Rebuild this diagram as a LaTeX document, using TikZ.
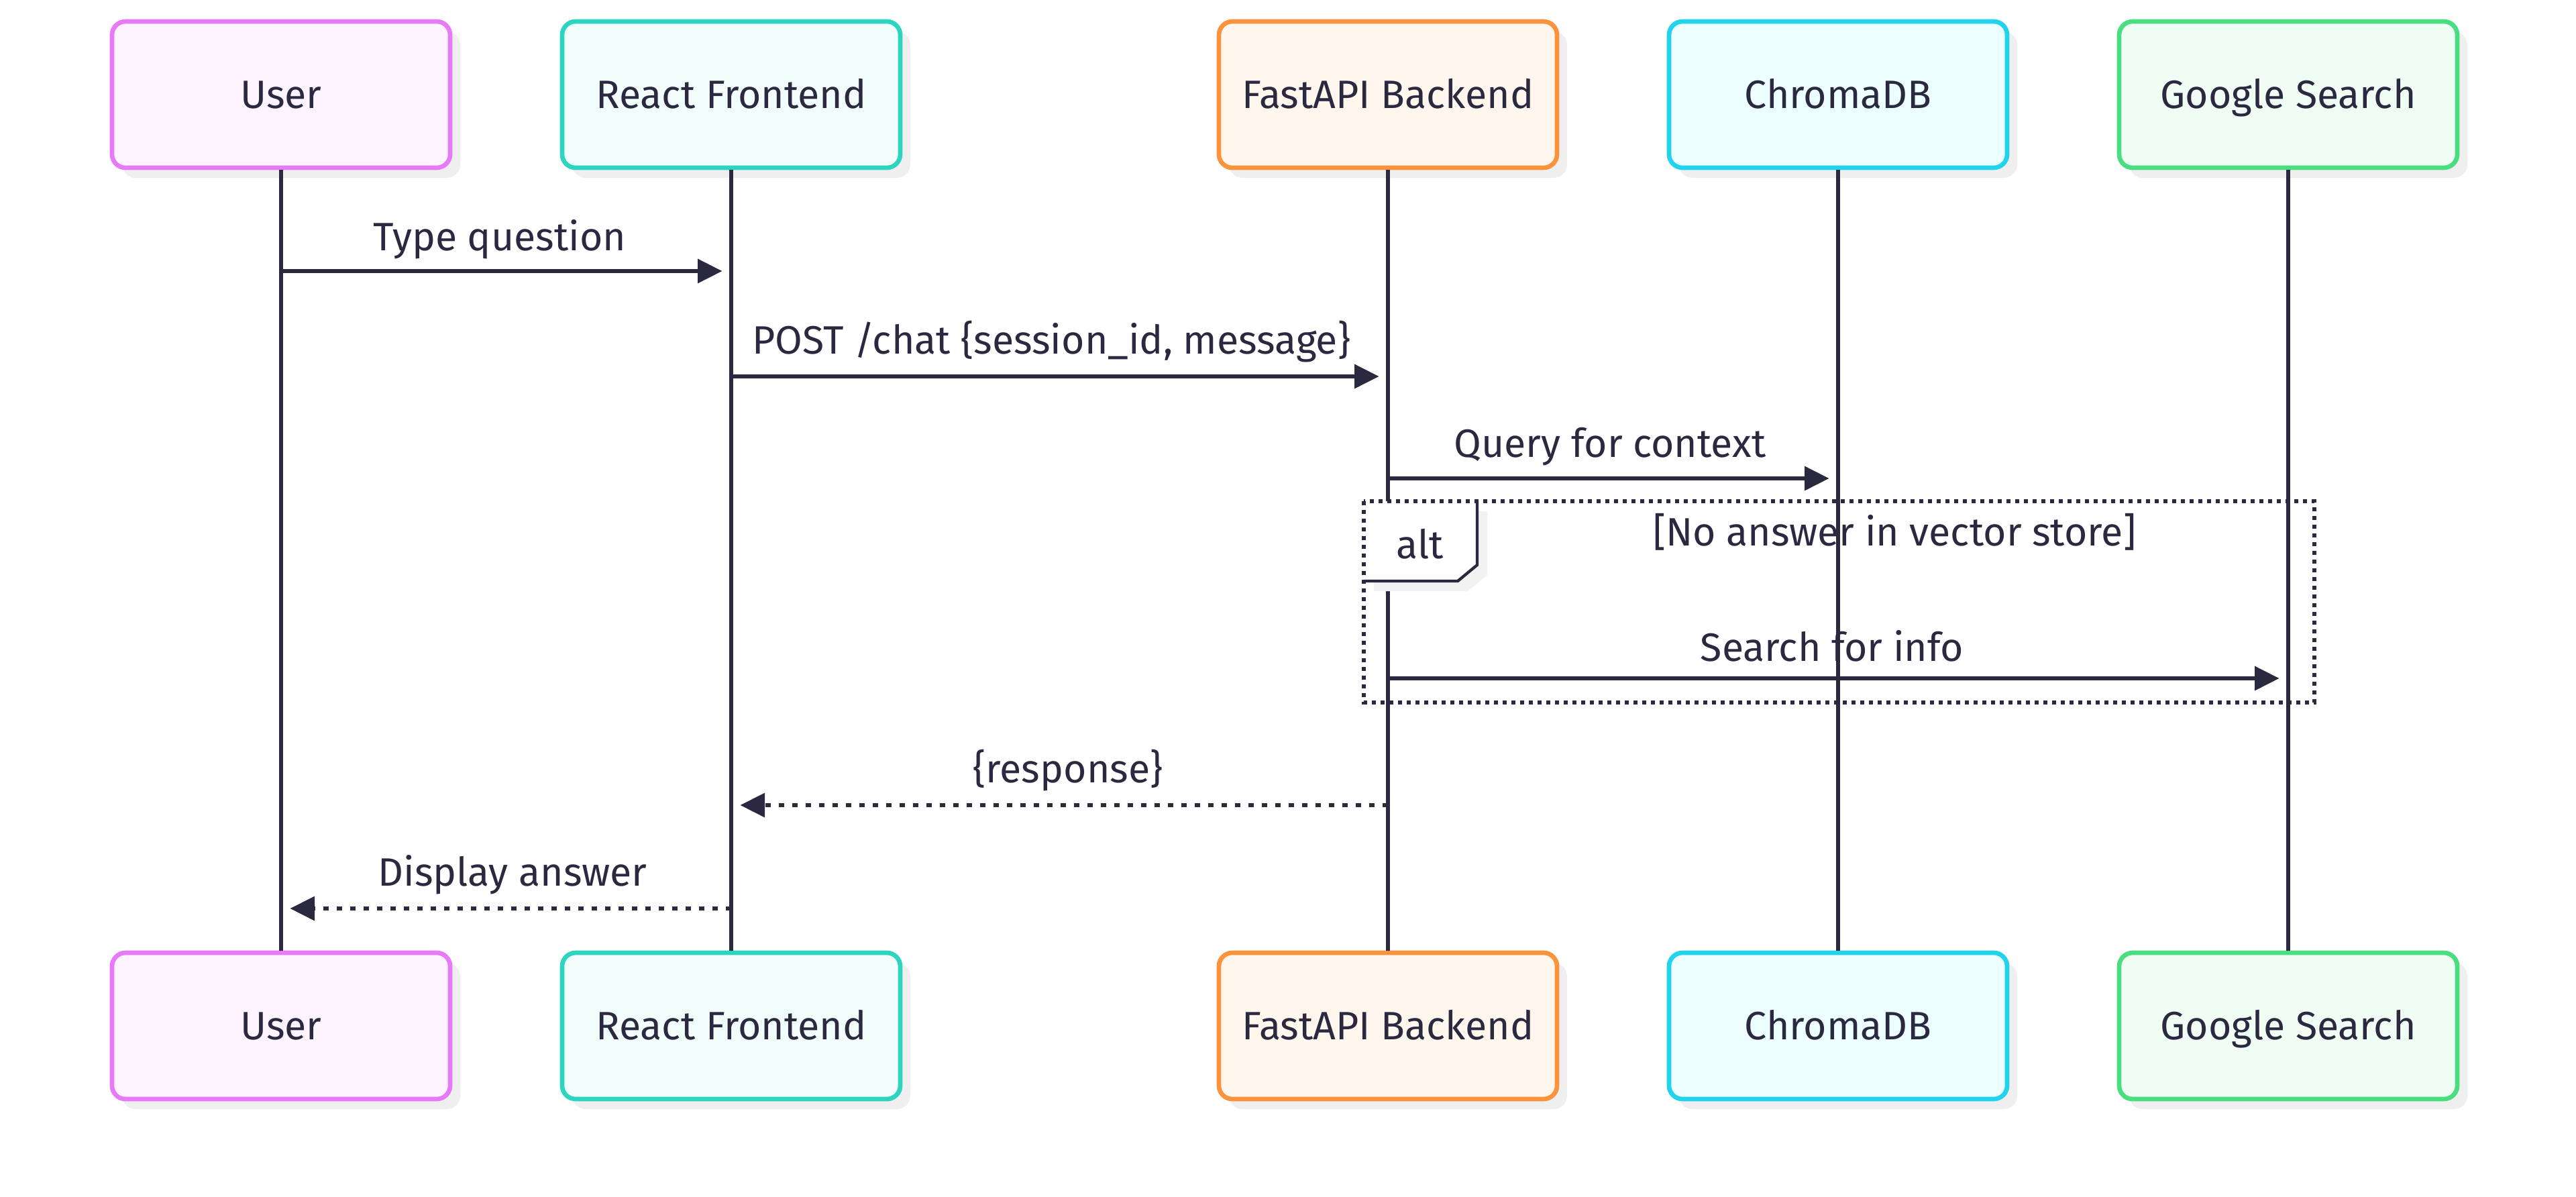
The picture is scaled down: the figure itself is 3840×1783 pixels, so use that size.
\documentclass[tikz,border=0pt]{standalone}
\usepackage{fontspec}
\setmainfont{Fira Sans}
\usetikzlibrary{arrows.meta,shadows,calc}
\definecolor{ink}{HTML}{2A2940}
\definecolor{shade}{HTML}{EFEFEF}
\definecolor{uB}{HTML}{E879F9}\definecolor{uF}{HTML}{FDF4FF}
\definecolor{rB}{HTML}{2DD4BF}\definecolor{rF}{HTML}{F0FDFA}
\definecolor{fB}{HTML}{FB923C}\definecolor{fF}{HTML}{FFF7ED}
\definecolor{cB}{HTML}{22D3EE}\definecolor{cF}{HTML}{ECFEFF}
\definecolor{gB}{HTML}{4ADE80}\definecolor{gF}{HTML}{F0FDF4}
\tikzset{
  txt/.style={text=ink, font=\fontsize{17.7}{21}\selectfont, text height=12.2pt, text depth=0pt},
  actor/.style={txt, draw=#1B, fill=#1F, line width=2pt, rounded corners=6pt,
    minimum width=151.2pt, minimum height=65.4pt, inner sep=0pt,
    general shadow={fill=shade, shadow xshift=4.5pt, shadow yshift=-4.5pt}},
  lifeline/.style={draw=ink, line width=1.8pt},
  msg/.style={draw=ink, line width=1.9pt, -{Triangle[length=11pt,width=10.5pt]}, shorten >=4pt},
  reply/.style={msg, line width=1.9pt, dash pattern=on 2.4pt off 3.6pt},
  lbl/.style={txt, inner sep=0pt},
  altframe/.style={draw=ink, line width=1.8pt, dash pattern=on 1.8pt off 2.1pt},
}
\begin{document}
\begin{tikzpicture}[x=0.3pt,y=-0.3pt]
\useasboundingbox[fill=white] (0,0) rectangle (3840,1783);
% actors top
\node[actor=u] (uT) at (419,141) {User};
\node[actor=r] (rT) at (1090,141) {React Frontend};
\node[actor=f] (fT) at (2069,141) {FastAPI Backend};
\node[actor=c] (cT) at (2740,141) {ChromaDB};
\node[actor=g] (gT) at (3411,141) {Google Search};
% actors bottom
\node[actor=u] (uB) at (419,1529) {User};
\node[actor=r] (rB) at (1090,1529) {React Frontend};
\node[actor=f] (fB) at (2069,1529) {FastAPI Backend};
\node[actor=c] (cB) at (2740,1529) {ChromaDB};
\node[actor=g] (gB) at (3411,1529) {Google Search};
% lifelines
\draw[lifeline] (uT.south) -- (uB.north);
\draw[lifeline] (rT.south) -- (rB.north);
\draw[lifeline] (fT.south) -- (fB.north);
\draw[lifeline] (cT.south) -- (cB.north);
\draw[lifeline] (gT.south) -- (gB.north);
% rows
\coordinate (r1) at (0,404);
\coordinate (r2) at (0,561);
\coordinate (r3) at (0,713);
\coordinate (r4) at (0,1011);
\coordinate (r5) at (0,1200);
\coordinate (r6) at (0,1354);
% alt frame
\coordinate (altNW) at (2033,747);
\coordinate (altSE) at (3450,1047);
\fill[shade!80!white] (2048,762) -- (2217,762) -- (2217,857) -- (2188,881) -- (2048,881) -- cycle;
\fill[white] (2033,747) -- (2202,747) -- (2202,842) -- (2173,866) -- (2033,866) -- cycle;
\draw[ink, line width=1.3pt] (2202,747) -- (2202,842) -- (2173,866) -- (2033,866);
\draw[altframe] (altNW) rectangle (altSE);
\node[lbl] (altlbl) at (2117,812) {alt};
\node[lbl] (cond) at (2824,793) {[No answer in vector store]};
% messages
\draw[msg] (uT |- r1) -- (rT |- r1);
\node[lbl] (m1) at (745,353) {Type question};
\draw[msg] (rT |- r2) -- (fT |- r2);
\node[lbl] (m2) at (1567,507) {POST /chat \{session\_id, message\}};
\draw[msg] (fT |- r3) -- (cT |- r3);
\node[lbl] (m3) at (2400,661) {Query for context};
\draw[msg] (fT |- r4) -- (gT |- r4);
\node[lbl] (m4) at (2731,965) {Search for info};
\draw[reply] (fT |- r5) -- (rT |- r5);
\node[lbl] (m5) at (1592,1146) {\{response\}};
\draw[reply] (rT |- r6) -- (uT |- r6);
\node[lbl] (m6) at (764,1300) {Display answer};
\end{tikzpicture}
\end{document}
